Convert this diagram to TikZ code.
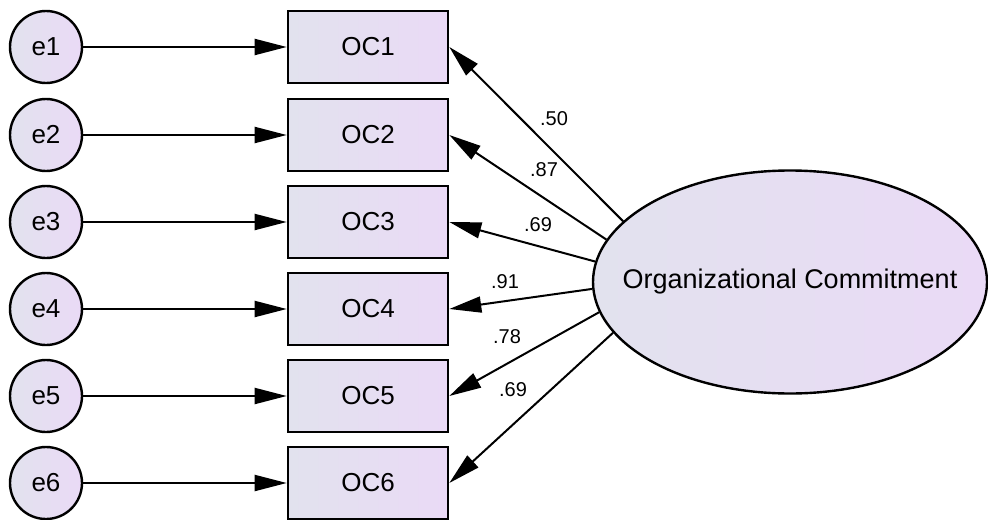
\documentclass[tikz,border=0pt]{standalone}
\usepackage{fontspec}
\setmainfont{Liberation Sans}
\usetikzlibrary{arrows.meta,shapes.geometric}
\definecolor{fillL}{RGB}{226,226,238}
\definecolor{fillR}{RGB}{234,218,246}
\begin{document}
\begin{tikzpicture}[x=0.5pt,y=-0.5pt,
  errc/.style={circle,draw=black,line width=1.2pt,minimum size=36pt,inner sep=0pt,
    left color=fillL,right color=fillR,font=\fontsize{13}{15}\selectfont},
  obsbox/.style={rectangle,draw=black,line width=1.3pt,minimum width=80pt,minimum height=36pt,inner sep=0pt,
    left color=fillL,right color=fillR,font=\fontsize{13}{15}\selectfont},
  latent/.style={ellipse,draw=black,line width=1.2pt,minimum width=197pt,minimum height=111.5pt,
    inner xsep=-25pt,inner ysep=0pt,
    left color=fillL,right color=fillR,font=\fontsize{13.5}{15}\selectfont},
  conn/.style={line width=1pt,-{Triangle[length=16pt,width=8pt]}},
  lbl/.style={font=\fontsize{10}{12}\selectfont,inner sep=0pt}]
\useasboundingbox (0,0) rectangle (988,519);
\foreach \i/\y in {1/47,2/135,3/222,4/309,5/396,6/483}{
  \node[errc] (e\i) at (46,\y) {e\i};
  \node[obsbox] (OC\i) at (368,\y) {OC\i};
  \draw[conn] (e\i) -- (OC\i);
}
\node[latent] (F) at (790,282) {Organizational Commitment};
\draw[conn] (F.160.8) -- (OC1.east);
\draw[conn] (F.167.1) -- (OC2.east);
\draw[conn] (F.174.5) -- (OC3.east);
\draw[conn] (F.182.3) -- (OC4.east);
\draw[conn] (F.189.9) -- (OC5.east);
\draw[conn] (F.196.7) -- (OC6.east);
\node[lbl] (l1) at (554,119) {.50};
\node[lbl] (l2) at (544,170) {.87};
\node[lbl] (l3) at (538,225) {.69};
\node[lbl] (l4) at (505,282) {.91};
\node[lbl] (l5) at (507,337) {.78};
\node[lbl] (l6) at (513,390) {.69};
\end{tikzpicture}
\end{document}
